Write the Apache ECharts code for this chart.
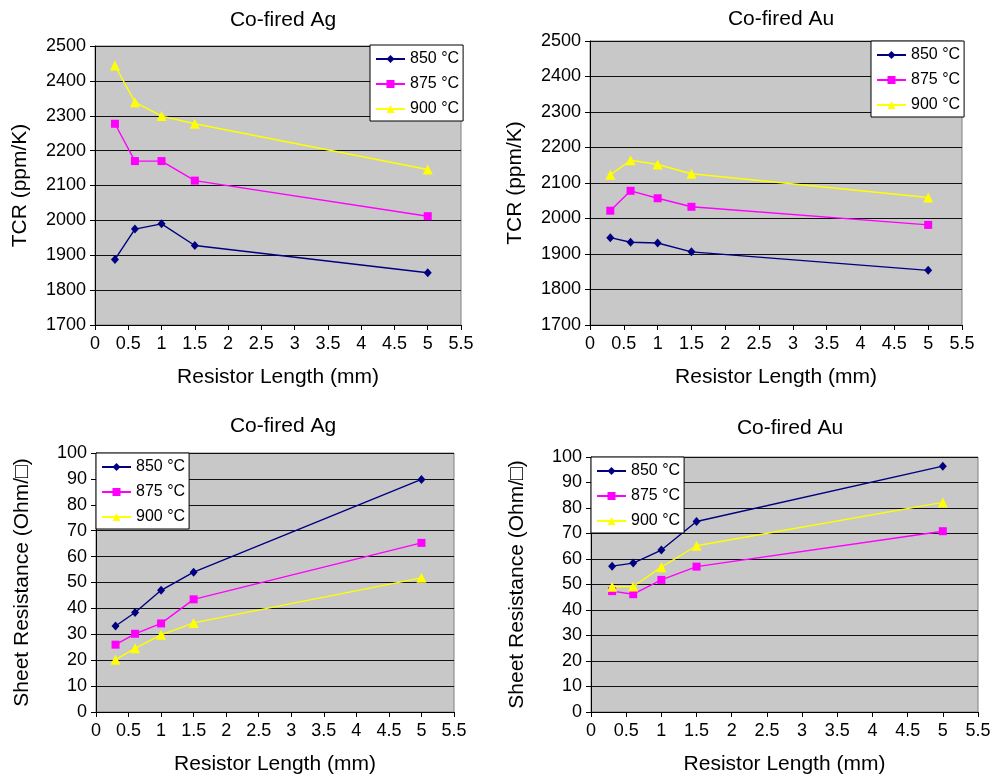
<!DOCTYPE html>
<html>
<head>
<meta charset="utf-8">
<script src="https://cdn.jsdelivr.net/npm/echarts@6/dist/echarts.min.js"></script>
<style>
html,body{margin:0;padding:0;background:#fff;}
#chart{width:995px;height:776px;}
</style>
</head>
<body>
<div id="chart"></div>
<script>
// Data
var lengths = [0.3, 0.6, 1, 1.5, 5];
var seriesNames = ['850 °C', '875 °C', '900 °C'];
var xTicks = [0, 0.5, 1, 1.5, 2, 2.5, 3, 3.5, 4, 4.5, 5, 5.5];
var tcrTicks = [1700, 1800, 1900, 2000, 2100, 2200, 2300, 2400, 2500];
var rsTicks = [0, 10, 20, 30, 40, 50, 60, 70, 80, 90, 100];

var agTcr850 = [1888, 1975, 1990, 1928, 1850];
var agTcr875 = [2277, 2170, 2170, 2114, 2012];
var agTcr900 = [2444, 2339, 2299, 2277, 2146];

var auTcr850 = [1946, 1933, 1931, 1906, 1854];
var auTcr875 = [2022, 2078, 2057, 2033, 1982];
var auTcr900 = [2123, 2164, 2152, 2126, 2059];

var agRs850 = [33.2, 38.4, 47.0, 54.0, 89.8];
var agRs875 = [26.0, 30.2, 34.2, 43.5, 65.3];
var agRs900 = [20.2, 24.6, 29.8, 34.4, 51.8];

var auRs850 = [57.2, 58.4, 63.5, 74.7, 96.4];
var auRs875 = [47.4, 46.2, 51.8, 57.0, 70.9];
var auRs900 = [49.1, 49.2, 56.8, 65.2, 82.2];

var titles = ['Co-fired Ag', 'Co-fired Au', 'Co-fired Ag', 'Co-fired Au'];
var xName = 'Resistor Length (mm)';
var yNames = ['TCR (ppm/K)', 'TCR (ppm/K)', 'Sheet Resistance (Ohm/\u25A1)', 'Sheet Resistance (Ohm/\u25A1)'];

var panelData = [
  [agTcr850, agTcr875, agTcr900],
  [auTcr850, auTcr875, auTcr900],
  [agRs850, agRs875, agRs900],
  [auRs850, auRs875, auRs900]
];
var panelTicks = [tcrTicks, tcrTicks, rsTicks, rsTicks];

// Layout / style
var FONT = '"Liberation Sans", Arial, Helvetica, sans-serif';
var grids = [
  {left: 95, top: 46, width: 366, height: 279},
  {left: 590, top: 41, width: 372, height: 284},
  {left: 96, top: 453, width: 358, height: 259},
  {left: 591, top: 457, width: 387, height: 255}
];
var titlePos = [{x: 278, y: 5}, {x: 776, y: 4}, {x: 278, y: 411}, {x: 785, y: 413}];
var legendPos = [{x: 370, y: 45}, {x: 871, y: 41}, {x: 96, y: 453}, {x: 591, y: 457}];
var yNameGaps = [64, 64, 63, 63];
var colors = ['#000080', '#ff00ff', '#ffff00'];
var symbols = ['diamond', 'rect', 'triangle'];
var symbolSizes = [[8, 9], 8, 10];

function pairs(xs, ys) {
  return xs.map(function (x, i) { return [x, ys[i]]; });
}

var option = {
  animation: false,
  backgroundColor: '#ffffff',
  textStyle: {fontFamily: FONT},
  title: [],
  legend: [],
  grid: [],
  xAxis: [],
  yAxis: [],
  series: []
};

for (var p = 0; p < 4; p++) {
  var g = grids[p];
  option.grid.push({
    left: g.left, top: g.top, width: g.width, height: g.height,
    show: true, backgroundColor: '#c8c8c8', borderColor: '#808080', borderWidth: 1,
    containLabel: false, outerBoundsMode: 'none'
  });
  option.title.push({
    text: titles[p], left: titlePos[p].x, top: titlePos[p].y, textAlign: 'center',
    textStyle: {fontFamily: FONT, fontSize: 21, fontWeight: 'normal', color: '#000'}
  });
  option.legend.push({
    data: seriesNames, orient: 'vertical', left: legendPos[p].x, top: legendPos[p].y,
    backgroundColor: '#ffffff', borderColor: '#000', borderWidth: 1,
    padding: [6, 4, 4, 5], itemGap: 9, itemWidth: 29, itemHeight: 10,
    textStyle: {fontFamily: FONT, fontSize: 16, color: '#000', lineHeight: 16},
    selectedMode: false
  });
  var ticks = panelTicks[p];
  option.xAxis.push({
    type: 'value', gridIndex: p, min: xTicks[0], max: xTicks[xTicks.length - 1],
    interval: xTicks[1] - xTicks[0],
    name: xName, nameLocation: 'middle', nameGap: 42,
    nameTextStyle: {fontFamily: FONT, fontSize: 21, color: '#000'},
    axisLine: {show: true, onZero: false, lineStyle: {color: '#000', width: 1}},
    axisTick: {show: true, inside: false, length: 5, lineStyle: {color: '#000'}},
    axisLabel: {fontFamily: FONT, fontSize: 18, color: '#000', margin: 10,
      formatter: function (v) { return String(v); }},
    splitLine: {show: false}
  });
  option.yAxis.push({
    type: 'value', gridIndex: p, min: ticks[0], max: ticks[ticks.length - 1],
    interval: ticks[1] - ticks[0],
    name: yNames[p], nameLocation: 'middle', nameGap: yNameGaps[p],
    nameTextStyle: {fontFamily: FONT, fontSize: 21, color: '#000'},
    axisLine: {show: true, onZero: false, lineStyle: {color: '#000', width: 1}},
    axisTick: {show: true, inside: false, length: 5, lineStyle: {color: '#000'}},
    axisLabel: {fontFamily: FONT, fontSize: 18, color: '#000', margin: 9,
      formatter: function (v) { return String(v); }},
    splitLine: {show: true, lineStyle: {color: '#111', width: 1}}
  });
  for (var s = 0; s < 3; s++) {
    option.series.push({
      type: 'line', name: seriesNames[s], xAxisIndex: p, yAxisIndex: p,
      data: pairs(lengths, panelData[p][s]),
      symbol: symbols[s], symbolSize: symbolSizes[s], showSymbol: true,
      lineStyle: {color: colors[s], width: 1.4},
      itemStyle: {color: colors[s]},
      z: 3
    });
  }
}

var chart = echarts.init(document.getElementById('chart'), null, {renderer: 'canvas'});
chart.setOption(option);
</script>
</body>
</html>
